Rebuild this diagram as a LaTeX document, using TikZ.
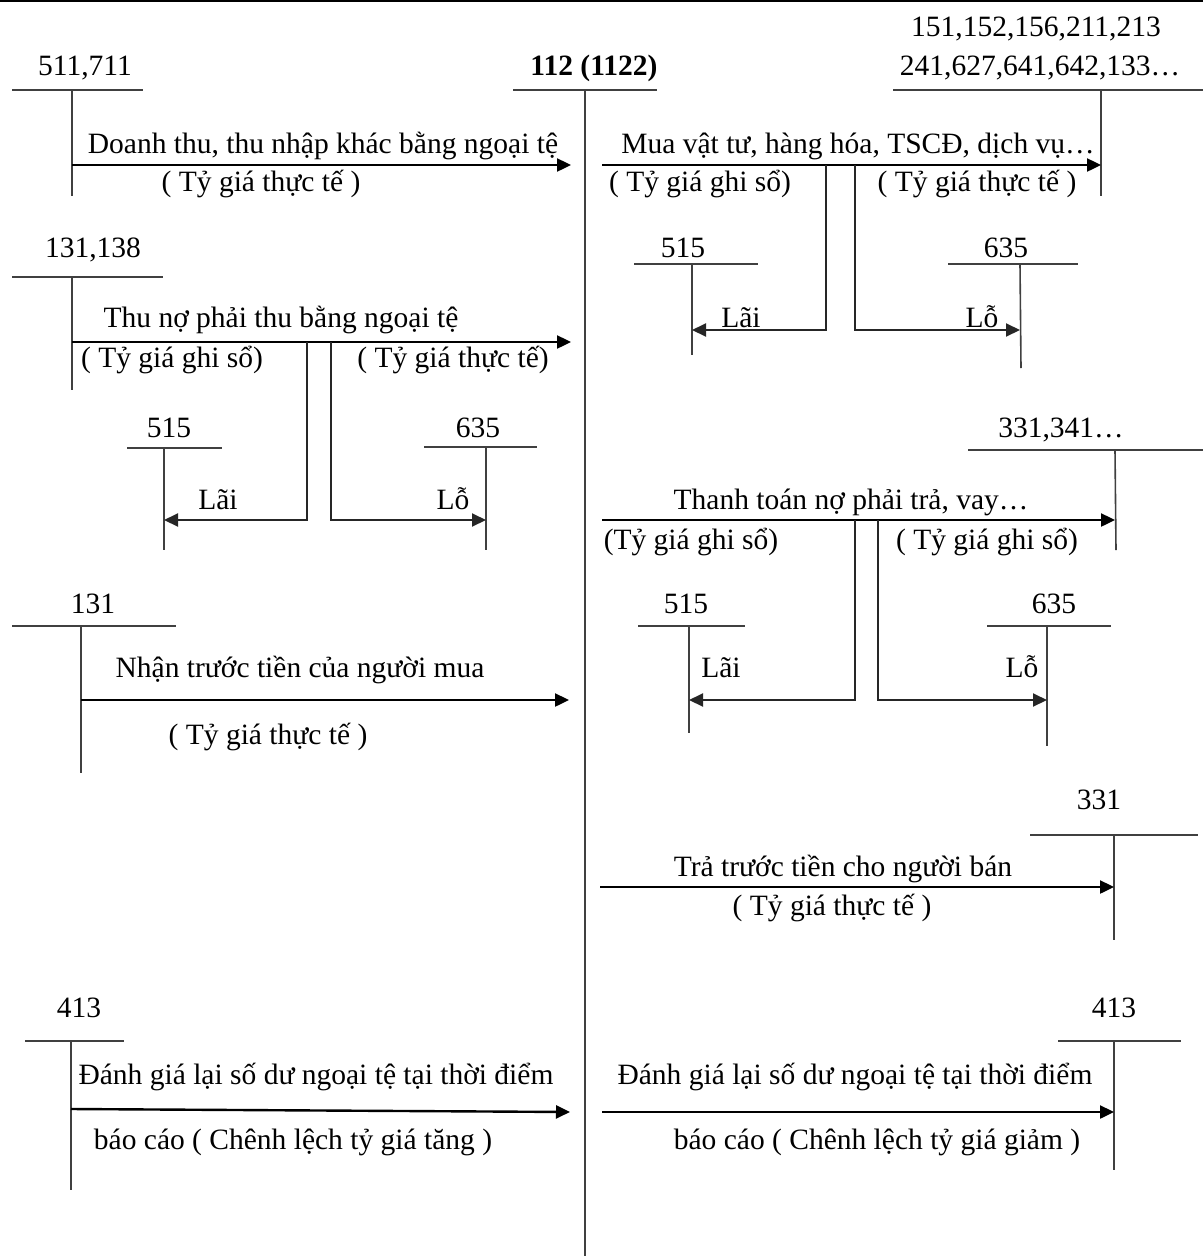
\documentclass[tikz,border=0pt]{standalone}
\usepackage{fontspec}
\setmainfont{Liberation Serif}
\usetikzlibrary{arrows.meta}
\begin{document}
\begin{tikzpicture}[x=1pt,y=-1pt,
  acc/.style={line width=1.6pt,draw=black!75},
  flow/.style={line width=2.4pt,draw=black,-{Triangle[length=14pt,width=13pt]}},
  branch/.style={line width=2pt,draw=black!85},
  txt/.style={inner sep=0pt,yshift=-6pt,font=\fontsize{29.5}{34}\selectfont,text height=0.7em,text depth=0.04em},
  ]
\useasboundingbox (0,0) rectangle (1203,1256);
\draw[line width=1.5pt] (0,1) -- (1203,1);
% central account 112
\node[txt,font=\fontsize{29.5}{34}\selectfont\bfseries] (c) at (594,66) {112 (1122)};
\coordinate (cL) at (513,90); \coordinate (cR) at (657,90);
\coordinate (cT) at (585,90); \coordinate (cB) at (585,1256);
\draw[acc] (cL) -- (cR); \draw[acc] (cT) -- (cB);

% ---------- 511,711
\node[txt] (a1) at (85,66) {511,711};
\coordinate (a1L) at (12,90); \coordinate (a1R) at (143,90);
\coordinate (a1T) at (72,90); \coordinate (a1B) at (72,196);
\draw[acc] (a1L) -- (a1R); \draw[acc] (a1T) -- (a1B);
\coordinate (f1s) at (72,165); \coordinate (f1e) at (571,165);
\draw[flow] (f1s) -- (f1e);
\node[txt] (t1a) at (323,144) {Doanh thu, thu nhập khác bằng ngoại tệ};
\node[txt] (t1b) at (261,182) {( Tỷ giá thực tế )};

% ---------- 131,138
\node[txt] (a2) at (93,248) {131,138};
\coordinate (a2L) at (12,277); \coordinate (a2R) at (163,277);
\coordinate (a2T) at (72,277); \coordinate (a2B) at (72,390);
\draw[acc] (a2L) -- (a2R); \draw[acc] (a2T) -- (a2B);
\coordinate (f2s) at (72,342); \coordinate (f2e) at (571,342);
\draw[flow] (f2s) -- (f2e);
\node[txt] (t2a) at (281,318) {Thu nợ phải thu bằng ngoại tệ};
\node[txt] (t2b) at (172,358) {( Tỷ giá ghi sổ)};
\node[txt] (t2c) at (453,358) {( Tỷ giá thực tế)};
% 515
\node[txt] (a3) at (169,428) {515};
\coordinate (a3L) at (127,448); \coordinate (a3R) at (222,448);
\coordinate (a3T) at (164,448); \coordinate (a3B) at (164,550);
\draw[acc] (a3L) -- (a3R); \draw[acc] (a3T) -- (a3B);
% 635
\node[txt] (a4) at (478,428) {635};
\coordinate (a4L) at (424,447); \coordinate (a4R) at (537,447);
\coordinate (a4T) at (486,447); \coordinate (a4B) at (486,550);
\draw[acc] (a4L) -- (a4R); \draw[acc] (a4T) -- (a4B);
\coordinate (b2a) at (307,342); \coordinate (b2ae) at (164,520);
\coordinate (b2b) at (331,342); \coordinate (b2be) at (486,520);
\draw[branch,-{Triangle[length=14pt,width=13pt]}] (b2a) |- (b2ae);
\draw[branch,-{Triangle[length=14pt,width=13pt]}] (b2b) |- (b2be);
\node[txt] (l2a) at (218,500) {Lãi};
\node[txt] (l2b) at (453,500) {Lỗ};

% ---------- 131
\node[txt] (a5) at (93,604) {131};
\coordinate (a5L) at (12,626); \coordinate (a5R) at (176,626);
\coordinate (a5T) at (81,626); \coordinate (a5B) at (81,773);
\draw[acc] (a5L) -- (a5R); \draw[acc] (a5T) -- (a5B);
\coordinate (f5s) at (81,700); \coordinate (f5e) at (569,700);
\draw[flow] (f5s) -- (f5e);
\node[txt] (t5a) at (300,668) {Nhận trước tiền của người mua};
\node[txt] (t5b) at (268,735) {( Tỷ giá thực tế )};

% ---------- 413 left
\node[txt] (a6) at (79,1008) {413};
\coordinate (a6L) at (25,1041); \coordinate (a6R) at (124,1041);
\coordinate (a6T) at (71,1041); \coordinate (a6B) at (71,1190);
\draw[acc] (a6L) -- (a6R); \draw[acc] (a6T) -- (a6B);
\coordinate (f6s) at (71,1109); \coordinate (f6e) at (570,1112);
\draw[flow] (f6s) -- (f6e);
\node[txt] (t6a) at (316,1075) {Đánh giá lại số dư ngoại tệ tại thời điểm};
\node[txt] (t6b) at (293,1140) {báo cáo ( Chênh lệch tỷ giá tăng )};

% ---------- 151,... right top
\node[txt] (b1a) at (1036,27) {151,152,156,211,213};
\node[txt] (b1b) at (1040,66) {241,627,641,642,133…};
\coordinate (b1L) at (893,90); \coordinate (b1R) at (1203,90);
\coordinate (b1T) at (1101,90); \coordinate (b1B) at (1101,196);
\draw[acc] (b1L) -- (b1R); \draw[acc] (b1T) -- (b1B);
\coordinate (g1s) at (602,165); \coordinate (g1e) at (1101,165);
\draw[flow] (g1s) -- (g1e);
\node[txt] (u1a) at (858,144) {Mua vật tư, hàng hóa, TSCĐ, dịch vụ…};
\node[txt] (u1b) at (700,182) {( Tỷ giá ghi sổ)};
\node[txt] (u1c) at (977,182) {( Tỷ giá thực tế )};
\node[txt] (b2) at (683,248) {515};
\coordinate (b2L) at (634,264); \coordinate (b2R) at (758,264);
\coordinate (b2T) at (692,264); \coordinate (b2B) at (692,355);
\draw[acc] (b2L) -- (b2R); \draw[acc] (b2T) -- (b2B);
\node[txt] (b3) at (1006,248) {635};
\coordinate (b3L) at (948,264); \coordinate (b3R) at (1078,264);
\coordinate (b3T) at (1020,264); \coordinate (b3B) at (1021,368);
\draw[acc] (b3L) -- (b3R); \draw[acc] (b3T) -- (b3B);
\coordinate (r1a) at (826,165); \coordinate (r1ae) at (692,330);
\coordinate (r1b) at (855,165); \coordinate (r1be) at (1020,330);
\draw[branch,-{Triangle[length=14pt,width=13pt]}] (r1a) |- (r1ae);
\draw[branch,-{Triangle[length=14pt,width=13pt]}] (r1b) |- (r1be);
\node[txt] (m1a) at (741,318) {Lãi};
\node[txt] (m1b) at (982,318) {Lỗ};

% ---------- 331,341
\node[txt] (b4) at (1061,428) {331,341…};
\coordinate (b4L) at (968,450); \coordinate (b4R) at (1203,450);
\coordinate (b4T) at (1115,450); \coordinate (b4B) at (1116,550);
\draw[acc] (b4L) -- (b4R); \draw[acc] (b4T) -- (b4B);
\coordinate (g2s) at (602,520); \coordinate (g2e) at (1115,520);
\draw[flow] (g2s) -- (g2e);
\node[txt] (u2a) at (851,500) {Thanh toán nợ phải trả, vay…};
\node[txt] (u2b) at (691,540) {(Tỷ giá ghi sổ)};
\node[txt] (u2c) at (987,540) {( Tỷ giá ghi sổ)};
\node[txt] (b5) at (686,604) {515};
\coordinate (b5L) at (638,626); \coordinate (b5R) at (745,626);
\coordinate (b5T) at (689,626); \coordinate (b5B) at (689,733);
\draw[acc] (b5L) -- (b5R); \draw[acc] (b5T) -- (b5B);
\node[txt] (b6) at (1054,604) {635};
\coordinate (b6L) at (987,626); \coordinate (b6R) at (1111,626);
\coordinate (b6T) at (1047,626); \coordinate (b6B) at (1047,746);
\draw[acc] (b6L) -- (b6R); \draw[acc] (b6T) -- (b6B);
\coordinate (r2a) at (855,520); \coordinate (r2ae) at (689,700);
\coordinate (r2b) at (878,520); \coordinate (r2be) at (1047,700);
\draw[branch,-{Triangle[length=14pt,width=13pt]}] (r2a) |- (r2ae);
\draw[branch,-{Triangle[length=14pt,width=13pt]}] (r2b) |- (r2be);
\node[txt] (m2a) at (721,668) {Lãi};
\node[txt] (m2b) at (1022,668) {Lỗ};

% ---------- 331
\node[txt] (b7) at (1099,800) {331};
\coordinate (b7L) at (1030,835); \coordinate (b7R) at (1198,835);
\coordinate (b7T) at (1114,835); \coordinate (b7B) at (1114,940);
\draw[acc] (b7L) -- (b7R); \draw[acc] (b7T) -- (b7B);
\coordinate (g3s) at (600,887); \coordinate (g3e) at (1114,887);
\draw[flow] (g3s) -- (g3e);
\node[txt] (u3a) at (843,867) {Trả trước tiền cho người bán};
\node[txt] (u3b) at (832,906) {( Tỷ giá thực tế )};

% ---------- 413 right
\node[txt] (b8) at (1114,1008) {413};
\coordinate (b8L) at (1058,1041); \coordinate (b8R) at (1181,1041);
\coordinate (b8T) at (1114,1041); \coordinate (b8B) at (1114,1170);
\draw[acc] (b8L) -- (b8R); \draw[acc] (b8T) -- (b8B);
\coordinate (g4s) at (602,1112); \coordinate (g4e) at (1114,1112);
\draw[flow] (g4s) -- (g4e);
\node[txt] (u4a) at (855,1075) {Đánh giá lại số dư ngoại tệ tại thời điểm};
\node[txt] (u4b) at (877,1140) {báo cáo ( Chênh lệch tỷ giá giảm )};
\end{tikzpicture}
\end{document}
